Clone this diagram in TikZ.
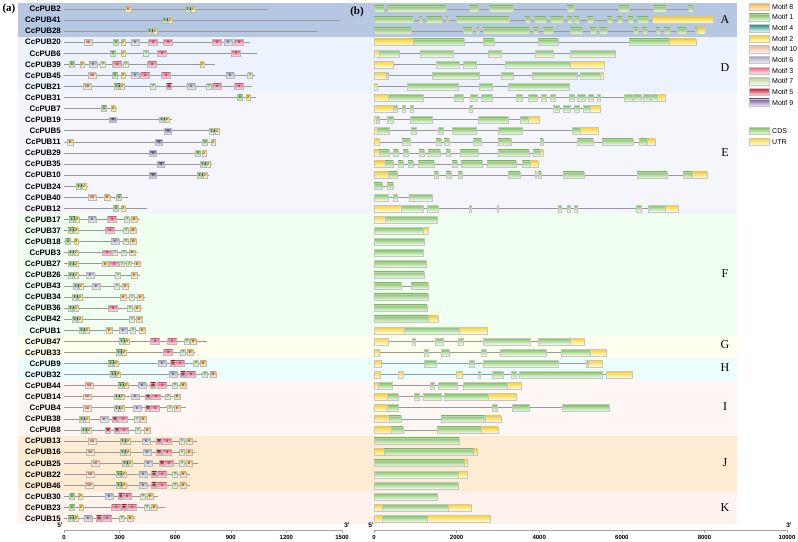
\documentclass[tikz,border=0pt]{standalone}
\usepackage{fontspec}
\setmainfont{Liberation Serif}
\setsansfont{Liberation Sans}
\usetikzlibrary{positioning}

\definecolor{bandA}{HTML}{B6C7E1}
\definecolor{bandD}{HTML}{ECF3FC}
\definecolor{bandE}{HTML}{F5F5FC}
\definecolor{bandF}{HTML}{F0FFF0}
\definecolor{bandG}{HTML}{FFFFF0}
\definecolor{bandH}{HTML}{EDFEFF}
\definecolor{bandI}{HTML}{FFF7F4}
\definecolor{bandJ}{HTML}{FDEBD3}
\definecolor{bandK}{HTML}{FDF2EC}
\definecolor{mot8}{HTML}{F5B041}
\definecolor{mot1}{HTML}{6DBE45}
\definecolor{mot4}{HTML}{1F8A8A}
\definecolor{mot2}{HTML}{F7D117}
\definecolor{mot10}{HTML}{F6B48E}
\definecolor{mot6}{HTML}{A9A6C4}
\definecolor{mot3}{HTML}{EE5C86}
\definecolor{mot7}{HTML}{B5DC92}
\definecolor{mot5}{HTML}{D0183A}
\definecolor{mot9}{HTML}{6F5B9A}
\definecolor{cdsgreen}{HTML}{7CC35A}
\definecolor{utryellow}{HTML}{FFD21F}

\tikzset{
  glab/.style={font=\sffamily\bfseries\fontsize{7.9}{8}\selectfont, anchor=east, inner sep=0pt},
  grplab/.style={font=\fontsize{12}{12}\selectfont, inner sep=0pt},
  panlab/.style={font=\bfseries\fontsize{11}{11}\selectfont, inner sep=0pt},
  ticklab/.style={font=\sffamily\bfseries\fontsize{6}{6}\selectfont, inner sep=0pt},
  endlab/.style={font=\sffamily\bfseries\fontsize{6.5}{6.5}\selectfont, inner sep=0pt},
  leglab/.style={font=\sffamily\fontsize{7}{7}\selectfont, anchor=west, inner sep=0pt},
  pline/.style={draw=gray!80, line width=0.8pt},
  mbox/.style={draw=gray!55, line width=0.2pt, inner sep=0pt, minimum height=5.5pt,
    font=\sffamily\fontsize{3.4}{3.4}\selectfont},
  m1/.style={mbox, minimum width=5pt, top color=mot1, bottom color=mot1!15},
  m2/.style={mbox, minimum width=4pt, top color=mot2, bottom color=mot2!15},
  m3/.style={mbox, minimum width=9pt, top color=mot3, bottom color=mot3!15},
  m4/.style={mbox, minimum width=2pt, top color=mot4, bottom color=mot4!15},
  m5/.style={mbox, minimum width=5pt, top color=mot5, bottom color=mot5!15},
  m6/.style={mbox, minimum width=8pt, top color=mot6, bottom color=mot6!15},
  m7/.style={mbox, minimum width=5pt, top color=mot7, bottom color=mot7!15},
  m8/.style={mbox, minimum width=6pt, top color=mot8, bottom color=mot8!15},
  m9/.style={mbox, minimum width=7pt, top color=mot9, bottom color=mot9!15},
  m10/.style={mbox, minimum width=8pt, top color=mot10, bottom color=mot10!15},
  cds/.style={draw=gray!45, line width=0.2pt, top color=cdsgreen, bottom color=cdsgreen!8},
  utr/.style={draw=gray!45, line width=0.2pt, top color=utryellow, bottom color=utryellow!8},
}

\def\grp{G}
% protein row: row, name, end, motifs (type/x, G = motifs 1-4-2)
\newcommand{\prot}[4]{%
  \pgfmathsetmacro{\yy}{9+11.08*#1}
  \node[glab] (#2) at (61,\yy) {#2};
  \draw[pline] ([xshift=3pt]#2.east) -- (#3,\yy);
  \foreach \mt/\mx in {#4}{%
    \ifx\mt\grp
      \node[m1] at (\mx+2.5,\yy) {1};
      \node[m4] at (\mx+5.5,\yy) {4};
      \node[m2] at (\mx+8,\yy) {2};
    \else
      \node[style/.expanded={m\mt}] at (\mx,\yy) {\mt};
    \fi}}
% gene row: row, end, exons (kind/start/end)
\newcommand{\gstr}[3]{%
  \pgfmathsetmacro{\yy}{9+11.08*#1}
  \draw[pline] (374,\yy) -- (#2,\yy);
  \foreach \kind/\s/\e in {#3}{%
    \path[style/.expanded={\kind}] (\s,\yy-3.3) rectangle (\e,\yy+3.3);}}

\begin{document}
\begin{tikzpicture}[x=1pt,y=-1pt]
\useasboundingbox (0,0) rectangle (798,541);

% subfamily bands
\foreach \s/\e/\c/\gl/\gy in {0/2/bandA/A/20, 3/7/bandD/D/68, 8/18/bandE/E/153,
    19/29/bandF/F/274, 30/31/bandG/G/345, 32/33/bandH/H/368, 34/38/bandI/I/407,
    39/43/bandJ/J/463, 44/46/bandK/K/508}{
  \fill[fill=\c] (18,{9+11.08*\s-5.54}) rectangle (737,{9+11.08*\e+5.54});
  \node[grplab] (grp\gl) at (725,\gy) {\gl};}

\node[panlab] (pa) at (9,9) {(a)};
\node[panlab] (pb) at (357,12) {(b)};

% (a) conserved motifs
\prot{0}{CcPUB2}{268}{8/128,G/185}
\prot{1}{CcPUB41}{340}{G/162}
\prot{2}{CcPUB28}{318}{G/147}
\prot{3}{CcPUB20}{250}{10/88,1/116,2/123,6/135,3/153,3/168,3/217,6/228,3/239}
\prot{4}{CcPUB6}{257}{1/113,2/123,7/146,3/162,3/236}
\prot{5}{CcPUB39}{215}{1/72,2/82,6/93,7/103,3/117,7/126,3/152,2/202}
\prot{6}{CcPUB45}{255}{10/92,1/115,2/123,6/135,3/145,3/166,6/230,7/250}
\prot{7}{CcPUB21}{252}{10/87,G/114,7/153,5/169,6/191,7/209,3/217,3/239}
\prot{8}{CcPUB31}{256}{1/240,2/248}
\prot{9}{CcPUB7}{117}{1/104,2/113}
\prot{10}{CcPUB19}{172}{9/113,G/159}
\prot{11}{CcPUB5}{220}{9/168,G/209}
\prot{12}{CcPUB11}{216}{8/70,9/159,1/205,2/213}
\prot{13}{CcPUB29}{207}{9/153,1/198,2/204}
\prot{14}{CcPUB35}{212}{9/161,G/200}
\prot{15}{CcPUB10}{209}{9/153,G/197}
\prot{16}{CcPUB24}{88}{G/76}
\prot{17}{CcPUB40}{128}{10/92,8/107,1/119}
\prot{18}{CcPUB12}{147}{1/116,2/123}
\prot{19}{CcPUB17}{140}{G/69,6/92,3/112,7/127,8/134}
\prot{20}{CcPUB37}{137}{G/68,3/110,7/126,8/133}
\prot{21}{CcPUB18}{137}{1/68,2/76,6/115,7/126,8/133}
\prot{22}{CcPUB3}{137}{G/68,3/107,7/115,7/124,8/132}
\prot{23}{CcPUB27}{141}{G/68,8/105,3/114,7/122,7/129,8/137}
\prot{24}{CcPUB26}{140}{G/68,6/90,7/118,8/134}
\prot{25}{CcPUB43}{130}{G/73,6/96,7/117,8/125}
\prot{26}{CcPUB34}{145}{G/72,8/123,7/132,8/140}
\prot{27}{CcPUB36}{142}{G/68,3/113,7/130,8/137}
\prot{28}{CcPUB42}{143}{G/72,7/132,8/139}
\prot{29}{CcPUB1}{146}{G/79,8/109,6/123,7/133,8/142}
\prot{30}{CcPUB47}{207}{G/119,3/155,3/172,7/187,8/193}
\prot{31}{CcPUB33}{195}{G/116,3/168,7/183,8/190}
\prot{32}{CcPUB9}{207}{G/108,6/162,5/173,3/180,7/196,8/203}
\prot{33}{CcPUB32}{217}{G/110,6/173,5/183,3/191,7/205,8/213}
\prot{34}{CcPUB44}{187}{10/89,G/118,6/142,5/153,3/162,7/175,8/183}
\prot{35}{CcPUB14}{180}{10/87,G/114,6/135,5/148,3/156,7/168,8/177}
\prot{36}{CcPUB4}{186}{10/87,G/114,6/137,5/148,3/155,7/170,8/177}
\prot{37}{CcPUB38}{147}{G/79,6/104,5/115,3/123,7/137,8/143}
\prot{38}{CcPUB8}{150}{G/81,5/108,5/117,3/124,7/138,8/147}
\prot{39}{CcPUB13}{197}{10/92,G/120,6/146,5/159,3/167,7/182,8/189}
\prot{40}{CcPUB16}{195}{10/90,G/120,6/147,5/159,3/167,7/182,8/189}
\prot{41}{CcPUB25}{198}{10/95,G/122,6/148,5/162,3/169,7/182,8/189}
\prot{42}{CcPUB22}{190}{10/90,G/116,6/143,5/154,3/162,7/175,8/183}
\prot{43}{CcPUB46}{190}{10/89,G/116,6/143,5/154,3/162,7/175,8/183}
\prot{44}{CcPUB30}{158}{1/72,2/80,6/109,5/121,3/127,7/143,8/150}
\prot{45}{CcPUB23}{165}{1/72,2/81,3/116,5/124,3/132,7/147,8/154}
\prot{46}{CcPUB15}{135}{G/68,6/88,5/99,3/107,7/122,8/130}

% (b) exon-intron structures
\gstr{0}{693}{cds/374/384,cds/387/446,cds/469/478,cds/489/513,cds/567/574,cds/618/629,cds/653/666,cds/688/693}
\gstr{1}{713}{cds/374/413,cds/419/422,cds/426/442,cds/446/448,cds/456/509,cds/525/530,cds/534/546,cds/550/563,cds/567/572,cds/574/579,cds/587/593,cds/607/612,cds/617/622,cds/628/633,cds/637/648,utr/652/713}
\gstr{2}{705}{cds/374/411,cds/463/472,cds/476/479,cds/483/529,cds/533/538,cds/543/553,cds/570/582,cds/590/596,cds/599/607,cds/633/638,cds/642/647,cds/656/660,cds/664/670,cds/677/686,cds/695/697,utr/697/705}
\gstr{3}{696}{utr/374/413,cds/413/464,cds/483/494,cds/538/558,cds/629/669,utr/669/696}
\gstr{4}{615}{utr/374/379,cds/379/399,cds/420/453,cds/488/501,cds/535/553,cds/570/615}
\gstr{5}{604}{utr/374/393,cds/436/459,cds/463/476,cds/505/570,utr/570/604}
\gstr{6}{603}{utr/374/386,cds/386/388,cds/432/479,cds/501/513,cds/532/577,cds/580/600,utr/600/603}
\gstr{7}{569}{utr/374/377,cds/407/458,cds/479/492,cds/508/569}
\gstr{8}{665}{utr/374/388,cds/388/423,cds/454/463,cds/470/477,cds/481/492,cds/516/522,cds/528/537,cds/541/546,cds/550/555,cds/569/574,cds/577/585,cds/588/593,cds/597/600,cds/624/632,cds/633/641,cds/643/650,cds/651/657,utr/657/665}
\gstr{9}{600}{utr/374/393,cds/393/397,cds/402/405,cds/410/413,cds/469/472,cds/553/559,cds/563/570,cds/574/579,cds/583/590,utr/590/600}
\gstr{10}{539}{utr/374/376,cds/376/379,cds/387/393,cds/410/432,cds/478/508,cds/520/528,utr/528/539}
\gstr{11}{598}{utr/374/377,cds/377/389,cds/411/416,cds/438/443,cds/452/476,cds/498/522,cds/572/580,utr/580/598}
\gstr{12}{655}{utr/374/379,cds/402/410,cds/436/441,cds/444/449,cds/473/481,cds/498/511,cds/540/543,cds/577/593,cds/602/633,cds/639/647,utr/647/655}
\gstr{13}{543}{utr/374/379,cds/379/389,cds/393/398,cds/403/408,cds/419/424,cds/428/440,cds/446/450,cds/460/478,cds/498/529,cds/533/540,utr/540/543}
\gstr{14}{538}{utr/374/385,cds/385/393,cds/398/403,cds/408/413,cds/418/434,cds/452/457,cds/461/482,cds/487/516,cds/522/530,utr/530/538}
\gstr{15}{707}{utr/374/388,cds/388/397,cds/434/438,cds/446/451,cds/458/462,cds/508/520,cds/535/536,cds/538/541,cds/563/584,cds/637/667,cds/683/692,utr/692/707}
\gstr{16}{393}{cds/374/382,cds/387/393}
\gstr{17}{432}{cds/374/388,cds/393/397,cds/409/432}
\gstr{18}{678}{utr/374/401,cds/401/423,cds/427/438,cds/469/471,cds/497/498,cds/558/561,cds/567/570,cds/574/577,cds/636/641,cds/648/665,utr/665/678}
\gstr{19}{437}{utr/374/385,cds/385/437}
\gstr{20}{428}{cds/374/423,utr/423/428}
\gstr{21}{424}{cds/374/424}
\gstr{22}{423}{cds/374/423}
\gstr{23}{426}{cds/374/426}
\gstr{24}{424}{cds/374/424}
\gstr{25}{428}{cds/374/401,cds/411/428}
\gstr{26}{428}{cds/374/428}
\gstr{27}{427}{cds/374/427}
\gstr{28}{438}{cds/374/428,utr/428/438}
\gstr{29}{487}{utr/374/404,cds/404/459,utr/459/487}
\gstr{30}{584}{utr/374/388,cds/412/415,cds/435/443,cds/458/463,cds/483/530,cds/538/570,utr/570/584}
\gstr{31}{606}{utr/374/379,cds/424/428,cds/441/449,cds/481/486,cds/500/546,cds/561/590,utr/590/606}
\gstr{32}{602}{utr/374/381,cds/424/436,cds/469/474,cds/483/558,cds/586/588,utr/588/602}
\gstr{33}{632}{utr/374/380,utr/398/403,utr/456/462,cds/478/480,cds/492/503,cds/511/516,cds/519/602,utr/606/632}
\gstr{34}{521}{utr/374/378,cds/378/392,cds/430/434,cds/438/457,cds/463/507,utr/507/521}
\gstr{35}{516}{utr/374/387,cds/387/398,cds/414/419,cds/423/441,cds/444/488,utr/488/516}
\gstr{36}{609}{utr/374/387,cds/387/398,cds/492/497,cds/512/529,cds/562/609}
\gstr{37}{501}{utr/374/389,cds/389/401,cds/441/485,utr/485/501}
\gstr{38}{498}{utr/374/391,cds/391/403,cds/437/481,utr/481/498}
\gstr{39}{459}{cds/374/459}
\gstr{40}{477}{utr/374/384,cds/384/473,utr/473/477}
\gstr{41}{467}{cds/374/464,utr/464/467}
\gstr{42}{467}{cds/374/458,utr/458/467}
\gstr{43}{458}{cds/374/458}
\gstr{44}{437}{cds/374/437}
\gstr{45}{471}{utr/374/382,cds/382/448,utr/448/471}
\gstr{46}{490}{utr/374/382,cds/382/427,utr/427/490}

% legend
\foreach \i/\m in {0/8,1/1,2/4,3/2,4/10,5/6,6/3,7/7,8/5,9/9}{
  \pgfmathsetmacro{\ly}{6.7+10.65*\i}
  \path[draw=gray!45, line width=0.2pt, top color=mot\m, bottom color=mot\m!10]
    (749,\ly-3.6) rectangle (769,\ly+3.6);
  \node[leglab] (lm\m) at (772,\ly) {Motif \m};}
\path[cds] (749,127.5) rectangle (769,134.5);
\node[leglab] (lcds) at (772,131) {CDS};
\path[utr] (749,138.2) rectangle (769,145.2);
\node[leglab] (lutr) at (772,141.7) {UTR};

% axes
\coordinate (a0) at (64,530);
\coordinate (a1) at (342,530);
\draw[gray!70, line width=0.5pt] (a0) -- (a1);
\foreach \v in {0,300,...,1500}{
  \draw[gray!70, line width=0.4pt] ({64+\v*0.18533},530) -- ({64+\v*0.18533},532.5);
  \node[ticklab] at ({64+\v*0.18533},537.5) {\v};}
\node[endlab] at (60,525.5) {5'};
\node[endlab] at (347,525.5) {3'};

\coordinate (b0) at (374,530);
\coordinate (b1) at (787,530);
\draw[gray!70, line width=0.5pt] (b0) -- (b1);
\foreach \v in {0,2000,...,10000}{
  \draw[gray!70, line width=0.4pt] ({374+\v*0.0413},530) -- ({374+\v*0.0413},532.5);
  \node[ticklab] at ({374+\v*0.0413},537.5) {\v};}
\node[endlab] at (371,525.5) {5'};
\node[endlab] at (789,525.5) {3'};
\end{tikzpicture}
\end{document}
